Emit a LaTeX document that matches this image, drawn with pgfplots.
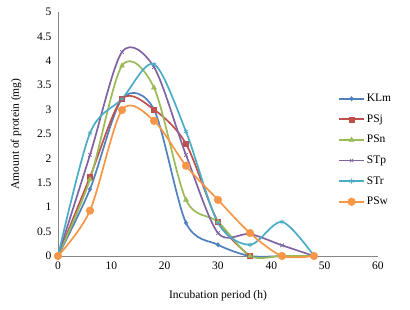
\documentclass[border=0pt]{standalone}
\usepackage{pgfplots}
\pgfplotsset{compat=1.18}
\usepackage{fontspec}
\setmainfont{Liberation Serif}
\definecolor{cKLm}{HTML}{4F81BD}
\definecolor{cPSj}{HTML}{C0504D}
\definecolor{cPSn}{HTML}{9BBB59}
\definecolor{cSTp}{HTML}{8064A2}
\definecolor{cSTr}{HTML}{4BACC6}
\definecolor{cPSw}{HTML}{F79646}
\definecolor{axgray}{HTML}{868686}
\begin{document}
\begin{tikzpicture}[x=1pt,y=1pt]
\begin{axis}[
  at={(0,0)}, anchor=south west,
  scale only axis, width=320pt, height=244pt,
  xmin=0, xmax=60, ymin=0, ymax=5,
  xtick={0,10,...,60}, ytick={0,0.5,...,5},
  axis x line=bottom, axis y line=left,
  axis line style={draw=axgray, -},
  major tick length=0pt,
  tick label style={font=\fontsize{11.5}{13}\selectfont},
  xticklabel style={yshift=-2pt},
  yticklabel style={xshift=-3pt, /pgf/number format/fixed, /pgf/number format/precision=1},
  /pgf/number format/assume math mode=true,
  xlabel={Incubation period (h)},
  ylabel={Amount of protein (mg)},
  xlabel style={font=\fontsize{11.5}{13}\selectfont, at={(axis description cs:0.5,-0.164)}, anchor=center},
  ylabel style={font=\fontsize{11.5}{13}\selectfont, at={(axis description cs:-0.131,0.5)}, anchor=center},
  clip=false,
  legend style={at={(axis cs:52.5,3.36)}, anchor=north west, draw=none, fill=none,
    font=\fontsize{11.5}{13}\selectfont, row sep=7.5pt, inner sep=0pt,
    /tikz/every even column/.append style={column sep=2pt}},
  legend cell align=left,
  legend image code/.code={\draw[#1, mark repeat=2, mark phase=2] plot coordinates {(0pt,0pt) (12.5pt,0pt) (25pt,0pt)};},
  every axis plot/.append style={line width=1.7pt, smooth, tension=0.5},
]
\addplot[color=cKLm, mark=diamond*, mark size=2.2pt, mark options={line width=0.5pt}] coordinates {
(0,0) (6,1.37) (12,3.22) (18,3.0) (24,0.68) (30,0.23) (36,0) (42,0)};
\addlegendentry{KLm}
\addplot[color=cPSj, mark=square*, mark size=2.5pt, mark options={line width=0.5pt}] coordinates {
(0,0) (6,1.62) (12,3.22) (18,3.0) (24,2.3) (30,0.7) (36,0)};
\addlegendentry{PSj}
\addplot[color=cPSn, mark=triangle*, mark size=2.8pt, mark options={line width=0.5pt}] coordinates {
(0,0) (6,1.57) (12,3.9) (18,3.45) (24,1.15) (30,0.7) (36,0) (42,0) (48,0)};
\addlegendentry{PSn}
\addplot[color=cSTp, mark=x, mark size=2.5pt, mark options={line width=0.7pt}] coordinates {
(0,0) (6,2.07) (12,4.18) (18,3.87) (24,2.07) (30,0.47) (36,0.45) (42,0.22) (48,0)};
\addlegendentry{STp}
\addplot[color=cSTr, mark=asterisk, mark size=2.5pt, mark options={line width=0.7pt}] coordinates {
(0,0) (6,2.52) (12,3.22) (18,3.93) (24,2.55) (30,0.68) (36,0.23) (42,0.7) (48,0)};
\addlegendentry{STr}
\addplot[color=cPSw, mark=*, mark size=3.8pt, mark options={line width=0.5pt}] coordinates {
(0,0) (6,0.93) (12,2.99) (18,2.77) (24,1.85) (30,1.15) (36,0.47) (42,0) (48,0)};
\addlegendentry{PSw}
\end{axis}
\pgfresetboundingbox
\path (-58,-54) rectangle (352,256);
\end{tikzpicture}
\end{document}
